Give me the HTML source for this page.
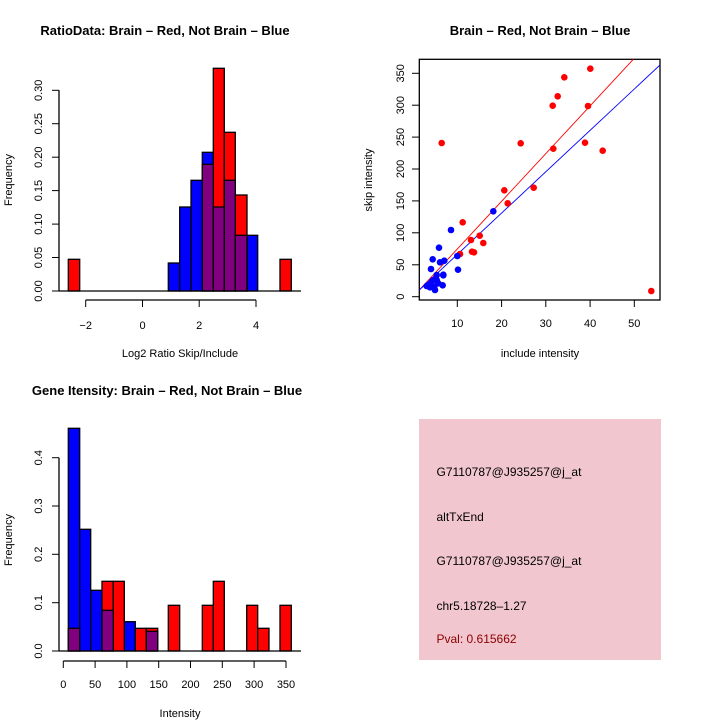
<!DOCTYPE html>
<html><head><style>body{margin:0;background:#fff}svg{display:block}text{font-family:"Liberation Sans",sans-serif}</style></head>
<body>
<svg width="720" height="720" viewBox="0 0 720 720" xmlns="http://www.w3.org/2000/svg">
<g font-size="13" font-weight="bold" text-anchor="middle">
<text x="165" y="35">RatioData: Brain – Red, Not Brain – Blue</text>
<text x="540" y="35">Brain – Red, Not Brain – Blue</text>
<text x="167" y="395">Gene Itensity: Brain – Red, Not Brain – Blue</text>
</g>
<!-- top-left histogram -->
<g stroke="#000" stroke-width="1.3">
<rect x="168.3" y="263" width="11.4" height="28" fill="#00f"/>
<rect x="179.7" y="207" width="11.3" height="84" fill="#00f"/>
<rect x="191" y="180.3" width="11.3" height="110.7" fill="#00f"/>
<rect x="202.3" y="152.3" width="11" height="138.7" fill="#00f"/>
<rect x="247" y="235.3" width="10.7" height="55.7" fill="#00f"/>
<rect x="68.3" y="259.3" width="11.4" height="31.7" fill="#f00"/>
<rect x="213.3" y="68.3" width="11" height="222.7" fill="#f00"/>
<rect x="224.3" y="132.3" width="11" height="158.7" fill="#f00"/>
<rect x="235.3" y="195" width="11.7" height="96" fill="#f00"/>
<rect x="280" y="259.3" width="11.3" height="31.7" fill="#f00"/>
<rect x="202.3" y="164.3" width="11" height="126.7" fill="#800080"/>
<rect x="213.3" y="207" width="11" height="84" fill="#800080"/>
<rect x="224.3" y="180.3" width="11" height="110.7" fill="#800080"/>
<rect x="235.3" y="235.3" width="11.7" height="55.7" fill="#800080"/>
<line x1="59" y1="291" x2="301" y2="291"/>
<line x1="59" y1="291" x2="59" y2="90.3"/>
<line x1="85.7" y1="300" x2="256" y2="300"/>
</g>
<g stroke="#000" stroke-width="1">
<line x1="52" y1="291" x2="59" y2="291"/><line x1="52" y1="257.5" x2="59" y2="257.5"/><line x1="52" y1="224.1" x2="59" y2="224.1"/><line x1="52" y1="190.6" x2="59" y2="190.6"/><line x1="52" y1="157.2" x2="59" y2="157.2"/><line x1="52" y1="123.7" x2="59" y2="123.7"/><line x1="52" y1="90.3" x2="59" y2="90.3"/>
<line x1="85.7" y1="300" x2="85.7" y2="307"/><line x1="142.5" y1="300" x2="142.5" y2="307"/><line x1="199.2" y1="300" x2="199.2" y2="307"/><line x1="256" y1="300" x2="256" y2="307"/>
</g>
<g font-size="11" text-anchor="middle">
<text transform="translate(42,291) rotate(-90)">0.00</text>
<text transform="translate(42,257.5) rotate(-90)">0.05</text>
<text transform="translate(42,224.1) rotate(-90)">0.10</text>
<text transform="translate(42,190.6) rotate(-90)">0.15</text>
<text transform="translate(42,157.2) rotate(-90)">0.20</text>
<text transform="translate(42,123.7) rotate(-90)">0.25</text>
<text transform="translate(42,90.3) rotate(-90)">0.30</text>
<text x="85.7" y="329">−2</text><text x="142.5" y="329">0</text><text x="199.2" y="329">2</text><text x="256" y="329">4</text>
<text x="180" y="357">Log2 Ratio Skip/Include</text>
<text transform="translate(12,180) rotate(-90)">Frequency</text>
</g>
<!-- scatter -->
<rect x="419.3" y="59.3" width="240.7" height="240.7" fill="none" stroke="#000" stroke-width="1.3"/>
<g stroke="#000">
<line x1="457.3" y1="300" x2="457.3" y2="307"/><line x1="501.6" y1="300" x2="501.6" y2="307"/><line x1="545.8" y1="300" x2="545.8" y2="307"/><line x1="590.1" y1="300" x2="590.1" y2="307"/><line x1="634.3" y1="300" x2="634.3" y2="307"/>
<line x1="412" y1="296.7" x2="419.3" y2="296.7"/><line x1="412" y1="264.8" x2="419.3" y2="264.8"/><line x1="412" y1="232.8" x2="419.3" y2="232.8"/><line x1="412" y1="200.9" x2="419.3" y2="200.9"/><line x1="412" y1="169" x2="419.3" y2="169"/><line x1="412" y1="137.1" x2="419.3" y2="137.1"/><line x1="412" y1="105.2" x2="419.3" y2="105.2"/><line x1="412" y1="73.3" x2="419.3" y2="73.3"/>
</g>
<g font-size="11" text-anchor="middle">
<text x="457.3" y="327">10</text><text x="501.6" y="327">20</text><text x="545.8" y="327">30</text><text x="590.1" y="327">40</text><text x="634.3" y="327">50</text>
<text transform="translate(404,296.7) rotate(-90)">0</text>
<text transform="translate(404,264.8) rotate(-90)">50</text>
<text transform="translate(404,232.8) rotate(-90)">100</text>
<text transform="translate(404,200.9) rotate(-90)">150</text>
<text transform="translate(404,169) rotate(-90)">200</text>
<text transform="translate(404,137.1) rotate(-90)">250</text>
<text transform="translate(404,105.2) rotate(-90)">300</text>
<text transform="translate(404,73.3) rotate(-90)">350</text>
<text x="540" y="357">include intensity</text>
<text transform="translate(372,180) rotate(-90)">skip intensity</text>
</g>
<svg x="419.3" y="59.3" width="240.7" height="240.7" viewBox="419.3 59.3 240.7 240.7" overflow="hidden">
<line x1="419.3" y1="290" x2="633.3" y2="59.3" stroke="#f00" stroke-width="0.9"/>
<line x1="419.3" y1="290" x2="660" y2="65" stroke="#00f" stroke-width="0.9"/>
</svg>
<g fill="#f00">
<circle cx="441.7" cy="143" r="3.3"/><circle cx="462.7" cy="222.3" r="3.3"/><circle cx="460" cy="254" r="3.3"/><circle cx="471" cy="240" r="3.3"/><circle cx="472" cy="251.7" r="3.3"/><circle cx="474" cy="252.3" r="3.3"/><circle cx="479.7" cy="235.7" r="3.3"/><circle cx="483.3" cy="243" r="3.3"/><circle cx="504.3" cy="190.3" r="3.3"/><circle cx="507.7" cy="203.3" r="3.3"/><circle cx="520.7" cy="143.3" r="3.3"/><circle cx="533.7" cy="187.7" r="3.3"/><circle cx="552.7" cy="105.7" r="3.3"/><circle cx="553.3" cy="148.7" r="3.3"/><circle cx="557.7" cy="96.3" r="3.3"/><circle cx="564.3" cy="77.3" r="3.3"/><circle cx="585" cy="142.7" r="3.3"/><circle cx="588" cy="106" r="3.3"/><circle cx="590.3" cy="68.7" r="3.3"/><circle cx="602.7" cy="150.7" r="3.3"/><circle cx="651.3" cy="291" r="3.3"/>
</g>
<g fill="#00f">
<circle cx="451" cy="230" r="3.3"/><circle cx="439" cy="247.7" r="3.3"/><circle cx="432.7" cy="259.3" r="3.3"/><circle cx="440" cy="262.3" r="3.3"/><circle cx="444.3" cy="260.7" r="3.3"/><circle cx="431" cy="269" r="3.3"/><circle cx="457.3" cy="256" r="3.3"/><circle cx="458" cy="269.7" r="3.3"/><circle cx="493.3" cy="211.3" r="3.3"/><circle cx="443.3" cy="274.7" r="3.3"/><circle cx="436.7" cy="275" r="3.3"/><circle cx="433.3" cy="280" r="3.3"/><circle cx="435" cy="290" r="3.3"/><circle cx="428.3" cy="285" r="3.3"/><circle cx="430" cy="287.3" r="3.3"/><circle cx="436.7" cy="280" r="3.3"/><circle cx="442.7" cy="285.3" r="3.3"/><circle cx="443.3" cy="275.3" r="3.3"/><circle cx="438.3" cy="283.3" r="3.3"/><circle cx="431.7" cy="281.7" r="3.3"/><circle cx="434.3" cy="286.7" r="3.3"/><circle cx="426.7" cy="286" r="3.3"/>
</g>
<!-- bottom histogram -->
<g stroke="#000" stroke-width="1.3">
<rect x="68.3" y="428.3" width="11.4" height="222.7" fill="#00f"/>
<rect x="79.7" y="529.3" width="11" height="121.7" fill="#00f"/>
<rect x="90.7" y="590.3" width="11.3" height="60.7" fill="#00f"/>
<rect x="124.3" y="621.7" width="11" height="29.3" fill="#00f"/>
<rect x="102" y="581.3" width="11.3" height="69.7" fill="#f00"/>
<rect x="113.3" y="581.3" width="11" height="69.7" fill="#f00"/>
<rect x="135.3" y="628.3" width="11" height="22.7" fill="#f00"/>
<rect x="146.3" y="628.3" width="11.4" height="22.7" fill="#f00"/>
<rect x="168.3" y="605.3" width="11.4" height="45.7" fill="#f00"/>
<rect x="202.3" y="605.3" width="11" height="45.7" fill="#f00"/>
<rect x="213.3" y="581.3" width="11" height="69.7" fill="#f00"/>
<rect x="246.7" y="605.3" width="11" height="45.7" fill="#f00"/>
<rect x="257.7" y="628.3" width="11.3" height="22.7" fill="#f00"/>
<rect x="280" y="605.3" width="11.3" height="45.7" fill="#f00"/>
<rect x="68.3" y="628.3" width="11.4" height="22.7" fill="#800080"/>
<rect x="102" y="610.3" width="11.3" height="40.7" fill="#800080"/>
<rect x="146.3" y="631.3" width="11.4" height="19.7" fill="#800080"/>
<line x1="59" y1="651" x2="301" y2="651"/>
<line x1="59" y1="651" x2="59" y2="457.7"/>
<line x1="63.3" y1="661" x2="286" y2="661"/>
</g>
<g stroke="#000">
<line x1="52" y1="651" x2="59" y2="651"/><line x1="52" y1="602.7" x2="59" y2="602.7"/><line x1="52" y1="554.3" x2="59" y2="554.3"/><line x1="52" y1="506" x2="59" y2="506"/><line x1="52" y1="457.7" x2="59" y2="457.7"/>
<line x1="63.3" y1="661" x2="63.3" y2="668"/><line x1="95.1" y1="661" x2="95.1" y2="668"/><line x1="126.9" y1="661" x2="126.9" y2="668"/><line x1="158.7" y1="661" x2="158.7" y2="668"/><line x1="190.5" y1="661" x2="190.5" y2="668"/><line x1="222.3" y1="661" x2="222.3" y2="668"/><line x1="254.1" y1="661" x2="254.1" y2="668"/><line x1="286" y1="661" x2="286" y2="668"/>
</g>
<g font-size="11" text-anchor="middle">
<text transform="translate(42,651) rotate(-90)">0.0</text>
<text transform="translate(42,602.7) rotate(-90)">0.1</text>
<text transform="translate(42,554.3) rotate(-90)">0.2</text>
<text transform="translate(42,506) rotate(-90)">0.3</text>
<text transform="translate(42,457.7) rotate(-90)">0.4</text>
<text x="63.3" y="688">0</text><text x="95.1" y="688">50</text><text x="126.9" y="688">100</text><text x="158.7" y="688">150</text><text x="190.5" y="688">200</text><text x="222.3" y="688">250</text><text x="254.1" y="688">300</text><text x="286" y="688">350</text>
<text x="180" y="717">Intensity</text>
<text transform="translate(12,540) rotate(-90)">Frequency</text>
</g>
<!-- info box -->
<rect x="419" y="419" width="242" height="241" fill="#f1c6cf"/>
<g font-size="12">
<text x="436.5" y="476">G7110787@J935257@j_at</text>
<text x="436.5" y="521">altTxEnd</text>
<text x="436.5" y="565">G7110787@J935257@j_at</text>
<text x="436.5" y="610">chr5.18728–1.27</text>
<text x="436.5" y="643" fill="#8b0000">Pval: 0.615662</text>
</g>
</svg>
</body></html>
